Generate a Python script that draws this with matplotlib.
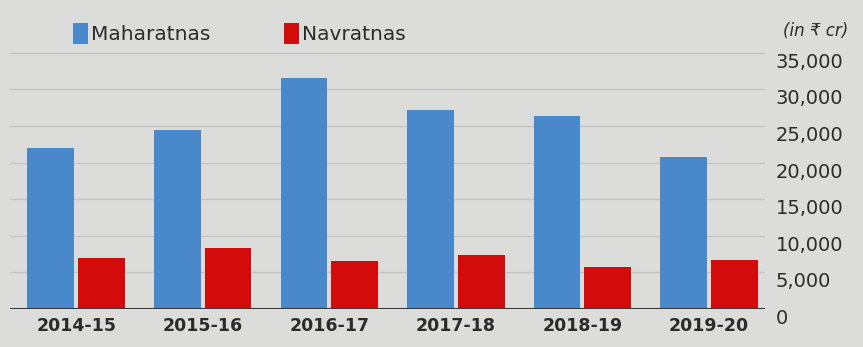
import numpy as np
import matplotlib.pyplot as plt
from matplotlib.ticker import FuncFormatter

# data (in Rs crore)
years = ['2014-15', '2015-16', '2016-17', '2017-18', '2018-19', '2019-20']
maharatnas = [22000, 24500, 31600, 27200, 26300, 20800]
navratnas = [6900, 8300, 6500, 7400, 5700, 6700]
yticks = [0, 5000, 10000, 15000, 20000, 25000, 30000, 35000]

bg = '#dcdcda'
blue = '#4a88cc'
red = '#d40b0b'

fig = plt.figure(figsize=(8.63, 3.47), dpi=100, facecolor=bg)
ax = fig.add_axes([0.012, 0.1095, 0.874, 0.781], facecolor=bg)

x = np.arange(len(years))
w = 0.37
b1 = ax.bar(x - 0.2, maharatnas, width=w, color=blue, zorder=3)
b2 = ax.bar(x + 0.2, navratnas, width=w, color=red, zorder=3)

ax.set_xlim(-0.52, 5.44)
ax.set_ylim(0, 37000)
ax.set_yticks(yticks)
ax.yaxis.tick_right()
ax.yaxis.set_major_formatter(FuncFormatter(lambda v, p: '{:,.0f}'.format(v)))
ax.tick_params(axis='y', length=0, pad=8, labelsize=14, labelcolor='#2b2b2b')
ax.set_xticks(x)
ax.set_xticklabels(years, fontsize=12.5, fontweight='bold', color='#2b2b2b')
ax.tick_params(axis='x', length=0, pad=6)
for t in ax.get_yticklabels():
    t.set_verticalalignment('top')

ax.grid(axis='y', color='#c4c4c4', linewidth=1.0, zorder=0)
for s in ax.spines.values():
    s.set_visible(False)
ax.axhline(0, color='#3a3a3a', linewidth=1.5, zorder=4)

leg = ax.legend([b1, b2], ['Maharatnas', 'Navratnas'], ncol=2, frameon=False,
                loc='upper left', bbox_to_anchor=(0.064, 0.985), bbox_transform=fig.transFigure,
                fontsize=14.5, handlelength=0.75, handleheight=1.2, handletextpad=0.15,
                columnspacing=3.65, labelcolor='#2b2b2b')

fig.text(0.983, 0.91, '(in ₹ cr)', ha='right', va='center', fontsize=12,
         style='italic', color='#2b2b2b')

plt.savefig('out.png', dpi=100, facecolor=bg)
